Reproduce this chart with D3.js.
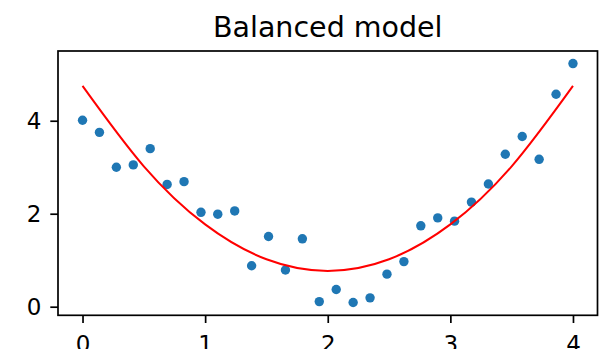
<!DOCTYPE html>
<html>
<head>
<meta charset="utf-8">
<script src="https://cdn.jsdelivr.net/npm/d3@7"></script>
<style>
  html, body { margin: 0; padding: 0; background: #fff; }
  svg { display: block; font-family: "DejaVu Sans", sans-serif; }
</style>
</head>
<body>
<svg id="chart" width="607" height="349"></svg>
<script>
// Observed samples (x evenly spaced over 0..4)
const sampleX = [0.000, 0.138, 0.276, 0.414, 0.552, 0.690, 0.828, 0.966, 1.103, 1.241,
                 1.379, 1.517, 1.655, 1.793, 1.931, 2.069, 2.207, 2.345, 2.483, 2.621,
                 2.759, 2.897, 3.034, 3.172, 3.310, 3.448, 3.586, 3.724, 3.862, 4.000];
const sampleY = [4.01, 3.75, 3.00, 3.05, 3.40, 2.63, 2.69, 2.03, 1.99, 2.06,
                 0.88, 1.51, 0.79, 1.46, 0.11, 0.37, 0.09, 0.19, 0.70, 0.97,
                 1.74, 1.91, 1.84, 2.25, 2.64, 3.28, 3.66, 3.17, 4.57, 5.23];

// Fitted model curve
const modelX = [0, 0.5, 1, 1.5, 2, 2.5, 3, 3.5, 4];
const modelY = [4.75, 3.02, 1.77, 1.02, 0.77, 1.02, 1.77, 3.02, 4.75];

// Axes
const xLimits = [-0.2, 4.2];
const yLimits = [-0.185, 5.5];
const xTicks = [0, 1, 2, 3, 4];
const yTicks = [0, 2, 4];
const title = "Balanced model";

const svg = d3.select("#chart");
const plot = { left: 58, right: 597.5, top: 51, bottom: 315.3 };

const x = d3.scaleLinear().domain(xLimits).range([plot.left, plot.right]);
const y = d3.scaleLinear().domain(yLimits).range([plot.bottom, plot.top]);

// Scatter points
svg.append("g")
  .selectAll("circle")
  .data(sampleX.map((v, i) => [v, sampleY[i]]))
  .join("circle")
  .attr("cx", d => x(d[0]))
  .attr("cy", d => y(d[1]))
  .attr("r", 4.7)
  .attr("fill", "#1f77b4");

// Model curve
const line = d3.line()
  .x(d => x(d[0]))
  .y(d => y(d[1]))
  .curve(d3.curveNatural);

svg.append("path")
  .datum(modelX.map((v, i) => [v, modelY[i]]))
  .attr("d", line)
  .attr("fill", "none")
  .attr("stroke", "red")
  .attr("stroke-width", 2);

// Axes with outward ticks
const xAxis = d3.axisBottom(x).tickValues(xTicks).tickFormat(d3.format("d"))
  .tickSize(7.7).tickPadding(12.3);
const yAxis = d3.axisLeft(y).tickValues(yTicks).tickFormat(d3.format("d"))
  .tickSize(7.7).tickPadding(8.8);

const gx = svg.append("g")
  .attr("transform", `translate(0,${plot.bottom})`)
  .call(xAxis);
const gy = svg.append("g")
  .attr("transform", `translate(${plot.left},0)`)
  .call(yAxis);

[gx, gy].forEach(g => {
  g.select(".domain").remove();
  g.selectAll(".tick line").attr("stroke", "#000").attr("stroke-width", 1.7);
  g.selectAll(".tick text")
    .attr("fill", "#000")
    .style("font-family", "DejaVu Sans, sans-serif")
    .style("font-size", "23px");
});

// Frame
svg.append("rect")
  .attr("x", plot.left)
  .attr("y", plot.top)
  .attr("width", plot.right - plot.left)
  .attr("height", plot.bottom - plot.top)
  .attr("fill", "none")
  .attr("stroke", "#000")
  .attr("stroke-width", 1.7);

// Title
svg.append("text")
  .attr("x", (plot.left + plot.right) / 2)
  .attr("y", 36.5)
  .attr("text-anchor", "middle")
  .style("font-size", "28.5px")
  .attr("fill", "#000")
  .text(title);
</script>
</body>
</html>
